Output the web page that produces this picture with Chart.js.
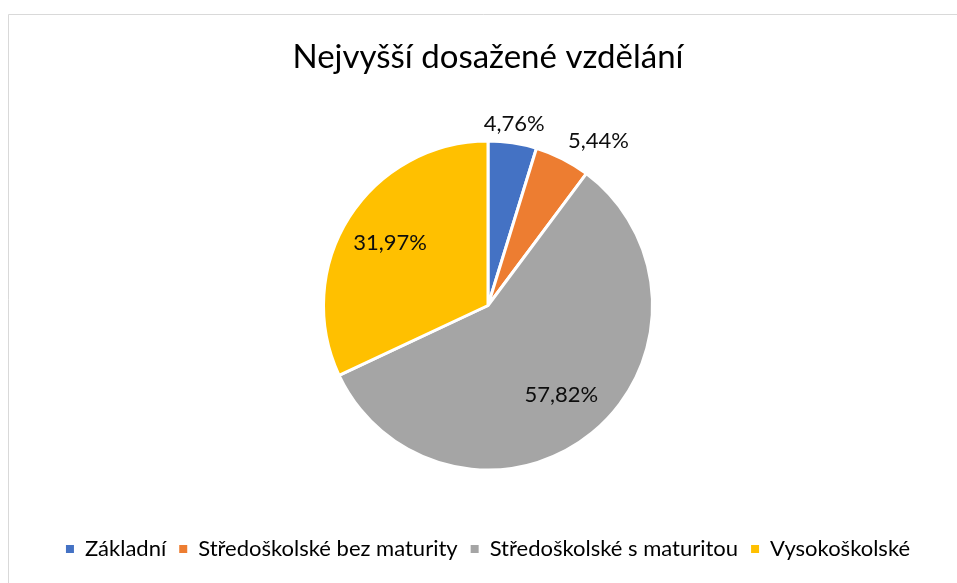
<!DOCTYPE html>
<html><head><meta charset="utf-8">
<script src="https://cdn.jsdelivr.net/npm/chart.js@4.4.1/dist/chart.umd.min.js"></script>
<style>html,body{margin:0;padding:0;background:#fff;overflow:hidden}#wrap{width:957px;height:583px;position:relative}</style>
</head><body><div id="wrap"><canvas id="c" width="957" height="583"></canvas></div>
<script>
const titleText = 'Nejvyšší dosažené vzdělání';
const categories = ['Základní', 'Středoškolské bez maturity', 'Středoškolské s maturitou', 'Vysokoškolské'];
const shares = [4.76, 5.44, 57.82, 31.97];
const colors = ['#4472C4', '#ED7D31', '#A5A5A5', '#FFC000'];

const fmt = v => v.toFixed(2).replace('.', ',') + '%';

const framePlugin = {
  id: 'frame',
  beforeDraw(chart) {
    const ctx = chart.ctx;
    ctx.save();
    ctx.fillStyle = '#fff';
    ctx.fillRect(0, 0, chart.width, chart.height);
    ctx.strokeStyle = '#d9d9d9';
    ctx.lineWidth = 1;
    ctx.beginPath();
    ctx.moveTo(8.5, chart.height + 2);
    ctx.lineTo(8.5, 14.5);
    ctx.lineTo(chart.width + 2, 14.5);
    ctx.stroke();
    ctx.restore();
  }
};

const labelPlugin = {
  id: 'pieLabels',
  afterDatasetsDraw(chart) {
    const ctx = chart.ctx;
    const meta = chart.getDatasetMeta(0);
    ctx.save();
    ctx.font = '22px Lato';
    ctx.fillStyle = '#0d0d0d';
    meta.data.forEach((arc, i) => {
      const p = arc.getProps(['x', 'y', 'startAngle', 'endAngle', 'outerRadius'], true);
      const mid = (p.startAngle + p.endAngle) / 2;
      const c = Math.cos(mid), s = Math.sin(mid);
      const text = fmt(shares[i]);
      if (shares[i] >= 10) {
        const r = p.outerRadius * 0.705;
        ctx.textAlign = 'center';
        ctx.textBaseline = 'middle';
        ctx.fillText(text, p.x + c * r, p.y + s * r);
      } else {
        const r = p.outerRadius + 12;
        ctx.textAlign = c > 0.3 ? 'left' : (c < -0.3 ? 'right' : 'center');
        ctx.textBaseline = s < -0.3 ? 'alphabetic' : (s > 0.3 ? 'top' : 'middle');
        ctx.fillText(text, p.x + c * r, p.y + s * r);
      }
    });
    ctx.restore();
  }
};

new Chart(document.getElementById('c'), {
  type: 'pie',
  data: {
    labels: categories,
    datasets: [{
      data: shares,
      backgroundColor: colors,
      borderColor: '#ffffff',
      borderWidth: 3
    }]
  },
  options: {
    responsive: false,
    animation: false,
    radius: 164.5,
    layout: { padding: { left: 19, right: 0, top: 0, bottom: 13 } },
    plugins: {
      tooltip: { enabled: false },
      title: {
        display: true,
        text: titleText,
        color: '#000',
        font: { family: 'Lato', size: 33, weight: 'normal', lineHeight: 1.2 },
        padding: { top: 38, bottom: 8.4 }
      },
      legend: {
        position: 'bottom',
        labels: {
          color: '#000',
          font: { family: 'Lato', size: 22 },
          boxWidth: 8,
          boxHeight: 8,
          padding: 13,
          generateLabels(chart) {
            const items = Chart.overrides.pie.plugins.legend.labels.generateLabels(chart);
            items.forEach(it => { it.lineWidth = 0; it.strokeStyle = 'rgba(0,0,0,0)'; });
            return items;
          }
        }
      }
    }
  },
  plugins: [framePlugin, labelPlugin]
});
</script>
</body></html>
